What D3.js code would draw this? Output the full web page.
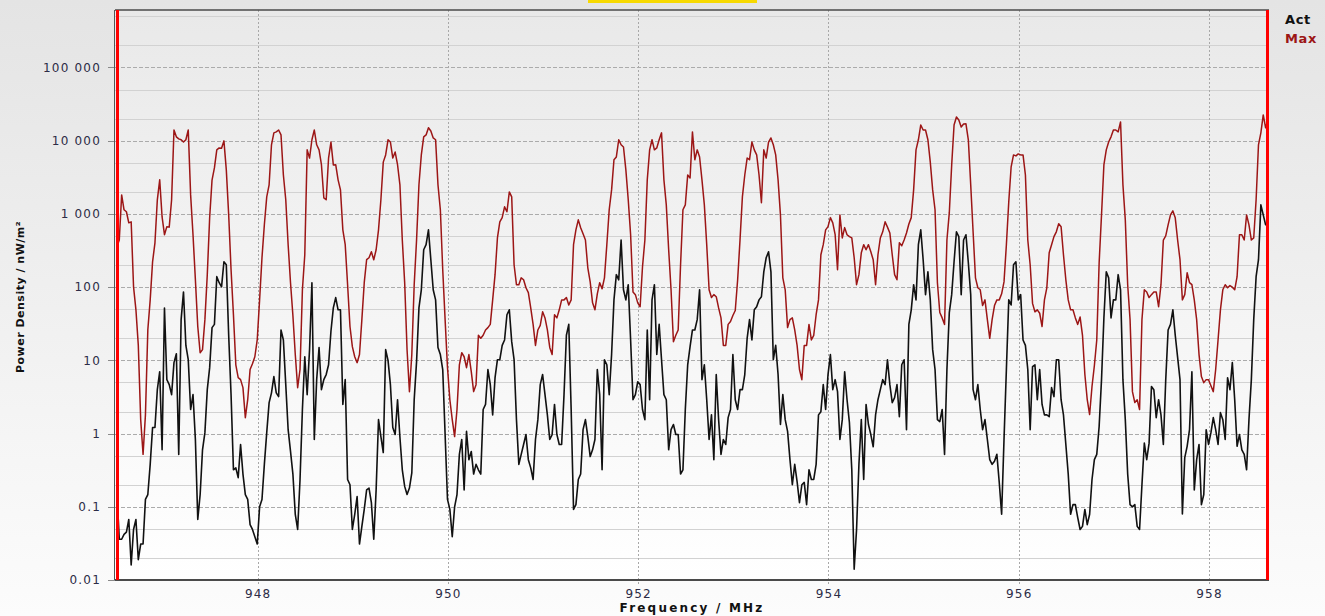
<!DOCTYPE html>
<html>
<head>
<meta charset="utf-8">
<script src="https://cdn.jsdelivr.net/npm/d3@7"></script>
<style>
  html, body { margin: 0; padding: 0; }
  body { width: 1325px; height: 616px; overflow: hidden; background: #f0f0f0; }
  text { font-family: "DejaVu Sans", Verdana, sans-serif; }
</style>
</head>
<body>
<svg id="chart" width="1325" height="616"></svg>
<script>
// sweep grid of the analyzer (MHz)
const freqStart = 946.52;
const freqStep = 0.025;

// Max hold trace, nW/m²
const maxValues = [
  355, 440, 1820, 1140, 1070, 755, 780, 101, 49, 16,
  1.55, 0.52, 1.8, 26, 67, 222, 403, 1560, 2920, 910,
  520, 670, 660, 1560, 14000, 11300, 10600, 10300, 9600, 10300,
  14000, 1820, 520, 126, 29, 12.7, 14, 36, 148, 885,
  2900, 4250, 7500, 7970, 7900, 9950, 4000, 970, 173, 42,
  8.7, 5.8, 5.45, 4.24, 1.65, 2.9, 7.5, 9.0, 11.2, 19,
  67, 252, 710, 1710, 2500, 8800, 12800, 13200, 14000, 12000,
  3400, 1560, 380, 115, 41, 12, 4.24, 7.5, 92, 277,
  7500, 5800, 10300, 14000, 8800, 7500, 4700, 1660, 1560, 5800,
  9600, 4670, 4700, 2920, 2130, 606, 380, 108, 29, 15.4,
  11.2, 9.3, 12, 36, 115, 237, 252, 304, 237, 324,
  606, 1560, 5100, 6400, 10300, 9600, 5800, 7000, 4700, 2500,
  440, 115, 14, 3.74, 12, 108, 440, 2500, 6400, 11300,
  12000, 15000, 13600, 10900, 10300, 2500, 1140, 173, 36, 7.95,
  2.9, 1.55, 0.91, 2.13, 8.7, 12.7, 11.2, 7.95, 12, 7.0,
  3.74, 4.66, 22, 20, 22, 26, 28, 31, 67, 148,
  470, 780, 890, 1250, 1070, 2000, 1710, 202, 108, 108,
  134, 126, 98, 84, 52, 31, 16, 26, 30, 46,
  38, 26, 15, 12, 42, 38, 49, 67, 67, 72,
  57, 67, 380, 606, 830, 646, 535, 440, 184, 118,
  61, 49, 81, 115, 95, 134, 380, 1140, 2130, 5500,
  6000, 10300, 8800, 8200, 4000, 1560, 520, 86, 79, 61,
  54, 190, 440, 2920, 7500, 10300, 7500, 7970, 10300, 12800,
  2920, 1330, 324, 92, 18, 22, 26, 202, 1140, 1330,
  3400, 3100, 13200, 5500, 7500, 6000, 2920, 1330, 380, 92,
  72, 79, 74, 52, 38, 16, 16, 31, 34, 41,
  48, 126, 440, 1710, 3400, 5800, 5500, 9600, 7500, 6400,
  3400, 1420, 7500, 5800, 9600, 10900, 8800, 6400, 2920, 970,
  134, 92, 28, 36, 38, 26, 16, 7.5, 5.45, 16,
  16, 31, 19, 22, 42, 67, 277, 380, 606, 670,
  890, 755, 520, 173, 970, 470, 650, 520, 490, 470,
  252, 108, 148, 295, 380, 324, 380, 304, 237, 108,
  277, 470, 570, 780, 660, 550, 277, 148, 126, 403,
  367, 440, 550, 730, 890, 2130, 7500, 10300, 16400, 14000,
  14000, 10300, 5100, 2130, 1140, 115, 45, 38, 31, 440,
  1040, 4670, 16400, 21100, 19200, 15400, 16900, 17000, 10300, 2500,
  570, 134, 98, 92, 56, 67, 36, 20, 36, 56,
  67, 67, 81, 118, 380, 1460, 4400, 6400, 6200, 6600,
  6400, 6400, 3400, 440, 202, 60, 46, 49, 44, 29,
  67, 98, 295, 380, 490, 570, 735, 670, 277, 126,
  67, 49, 49, 38, 31, 39, 22, 6.4, 2.9, 1.82,
  4.4, 8.5, 19, 215, 970, 4670, 7500, 9600, 11300, 14000,
  14000, 13200, 18000, 2500, 830, 108, 36, 3.74, 2.65, 2.9,
  2.13, 36, 92, 86, 72, 79, 86, 86, 54, 108,
  440, 500, 710, 970, 1100, 885, 440, 237, 67, 79,
  157, 115, 108, 67, 36, 12, 6.0, 4.96, 5.45, 5.45,
  4.5, 3.74, 7.5, 19, 49, 92, 108, 98, 105, 100,
  92, 139, 520, 520, 440, 970, 710, 440, 470, 1560,
  8800, 12800, 22500, 15000, 19200
];

// Actual trace, nW/m²
const actValues = [
  0.156, 0.036, 0.036, 0.042, 0.045, 0.067, 0.016, 0.049, 0.067, 0.019,
  0.031, 0.031, 0.126, 0.147, 0.38, 1.21, 1.21, 3.98, 7.0, 0.6,
  52, 5.45, 4.66, 3.4, 9.3, 12.3, 0.52, 36, 86, 16,
  10.2, 2.13, 3.4, 0.83, 0.067, 0.147, 0.6, 1.03, 3.98, 7.95,
  28, 31, 139, 115, 101, 222, 202, 22, 3.4, 0.32,
  0.34, 0.25, 0.71, 0.28, 0.147, 0.126, 0.057, 0.049, 0.039, 0.031,
  0.1, 0.126, 0.38, 1.03, 2.65, 3.6, 6.0, 3.6, 3.2, 26,
  19, 4.66, 1.13, 0.57, 0.28, 0.079, 0.049, 0.236, 2.13, 11.2,
  3.4, 14, 115, 0.83, 5.45, 15, 3.98, 5.45, 6.4, 8.7,
  25, 52, 72, 49, 49, 2.5, 5.45, 0.236, 0.2, 0.049,
  0.079, 0.138, 0.031, 0.054, 0.092, 0.17, 0.18, 0.114, 0.036, 0.17,
  1.55, 0.91, 0.55, 14, 10, 4.66, 1.21, 0.97, 2.9, 0.89,
  0.32, 0.19, 0.147, 0.18, 0.29, 2.9, 9.6, 52, 92, 324,
  380, 606, 237, 92, 67, 15, 12, 7.5, 0.97, 0.126,
  0.092, 0.039, 0.1, 0.147, 0.52, 0.83, 0.17, 1.07, 0.44, 0.57,
  0.28, 0.38, 0.32, 0.28, 2.13, 2.5, 7.5, 4.66, 1.8, 5.8,
  10.2, 10.2, 16, 19, 42, 49, 18, 10.2, 1.55, 0.38,
  0.52, 0.71, 0.97, 0.44, 0.34, 0.236, 0.83, 1.55, 4.66, 6.4,
  3.4, 1.8, 0.83, 0.97, 2.5, 0.97, 0.71, 0.71, 3.4, 22,
  31, 2.13, 0.092, 0.107, 0.236, 0.28, 1.13, 1.55, 0.91, 0.485,
  0.6, 0.83, 7.5, 3.4, 0.32, 10.2, 8.7, 3.4, 12, 67,
  148, 126, 440, 92, 67, 108, 19, 2.9, 3.4, 5.1,
  4.66, 2.13, 1.55, 26, 2.9, 67, 108, 12, 31, 10.2,
  3.4, 2.9, 0.6, 1.13, 1.33, 0.97, 0.97, 0.28, 0.32, 2.13,
  8.7, 15.4, 26, 26, 36, 92, 5.45, 8.7, 2.9, 0.83,
  1.8, 0.44, 6.4, 1.55, 0.52, 0.83, 0.71, 1.65, 2.13, 12,
  2.9, 2.13, 3.98, 3.98, 6.4, 20, 36, 19, 49, 54,
  67, 74, 162, 252, 304, 162, 10.2, 16, 6.4, 1.33,
  3.4, 1.55, 1.07, 0.44, 0.2, 0.38, 0.22, 0.114, 0.2, 0.215,
  0.107, 0.32, 0.236, 0.236, 0.38, 1.8, 1.99, 4.66, 2.13, 6.4,
  12, 3.98, 5.45, 3.74, 0.83, 1.55, 7.0, 2.9, 1.41, 0.32,
  0.014, 0.049, 0.38, 1.55, 0.236, 2.5, 1.33, 0.97, 0.66, 1.8,
  2.9, 3.98, 5.45, 4.66, 10.2, 4.66, 2.65, 3.1, 4.66, 1.7,
  8.7, 10.2, 1.13, 31, 49, 108, 67, 380, 606, 237,
  79, 162, 67, 14, 7.5, 1.55, 1.46, 2.13, 0.52, 7.5,
  45, 79, 222, 570, 490, 79, 440, 520, 215, 79,
  3.98, 2.9, 4.66, 2.13, 1.13, 1.55, 0.83, 0.44, 0.38, 0.42,
  0.52, 0.215, 0.079, 0.83, 7.5, 67, 57, 202, 222, 67,
  79, 19, 16, 7.5, 1.13, 8.2, 8.7, 2.9, 7.5, 2.5,
  1.8, 1.8, 1.7, 4.24, 3.2, 10.2, 10.2, 2.9, 1.8, 0.71,
  0.28, 0.079, 0.107, 0.107, 0.071, 0.049, 0.054, 0.092, 0.057, 0.079,
  0.236, 0.44, 0.52, 1.25, 5.45, 38, 162, 134, 38, 67,
  67, 148, 92, 5.45, 1.55, 0.28, 0.107, 0.1, 0.107, 0.054,
  0.049, 0.2, 0.74, 0.44, 0.74, 4.4, 3.98, 1.65, 2.9, 1.8,
  0.71, 5.45, 26, 31, 49, 22, 11, 5.45, 0.08, 0.47,
  0.67, 1.13, 7.0, 0.17, 0.44, 0.71, 0.107, 0.147, 1.13, 0.71,
  1.03, 1.65, 1.13, 0.71, 1.93, 1.55, 0.83, 5.8, 3.98, 9.3,
  2.9, 0.67, 0.97, 0.6, 0.52, 0.32, 1.55, 5.45, 36, 139,
  237, 1330, 970, 710, 710
];

const xTicks = [948, 950, 952, 954, 956, 958];
const yMajorTicks = [0.01, 0.1, 1, 10, 100, 1000, 10000, 100000];
const yTickLabels = ["0.01", "0.1", "1", "10", "100", "1 000", "10 000", "100 000"];
const yMinorTicks = [0.02, 0.05, 0.2, 0.5, 2, 5, 20, 50, 200, 500, 2000, 5000,
  20000, 50000, 200000, 500000];
const seriesNames = ["Act", "Max"];
const seriesColors = ["#111111", "#9c1616"];

const svgWidth = 1325;
const svgHeight = 616;
const plot = { left: 115, right: 1269, top: 10, bottom: 580 };

const svg = d3.select("#chart");
const defs = svg.append("defs");

// backgrounds
const outerGrad = defs.append("linearGradient")
  .attr("id", "outerGrad").attr("x1", 0).attr("y1", 0).attr("x2", 0).attr("y2", 1);
outerGrad.append("stop").attr("offset", "0%").attr("stop-color", "#e4e4e4");
outerGrad.append("stop").attr("offset", "100%").attr("stop-color", "#fcfcfc");

const plotGrad = defs.append("linearGradient")
  .attr("id", "plotGrad").attr("x1", 0).attr("y1", 0).attr("x2", 0).attr("y2", 1);
plotGrad.append("stop").attr("offset", "0%").attr("stop-color", "#e9e9e9");
plotGrad.append("stop").attr("offset", "100%").attr("stop-color", "#ffffff");

defs.append("clipPath").attr("id", "plotClip")
  .append("rect")
  .attr("x", plot.left).attr("y", plot.top)
  .attr("width", plot.right - plot.left).attr("height", plot.bottom - plot.top);

svg.append("rect")
  .attr("width", svgWidth).attr("height", svgHeight)
  .attr("fill", "url(#outerGrad)");

svg.append("rect")
  .attr("x", plot.left).attr("y", plot.top)
  .attr("width", plot.right - plot.left).attr("height", plot.bottom - plot.top)
  .attr("fill", "url(#plotGrad)");

// title box (cut off at the top)
svg.append("rect")
  .attr("x", 588).attr("y", 0).attr("width", 169).attr("height", 3)
  .attr("fill", "#f7d900");

// scales
const x_scale = d3.scaleLinear()
  .domain([946.5, 958.62])
  .range([plot.left, plot.right - 1]);
const y_scale = d3.scaleLog()
  .domain([0.01, 610000])
  .range([plot.bottom, plot.top]);

// grid
const grid = svg.append("g");
grid.selectAll(".minor")
  .data(yMinorTicks)
  .join("line")
  .attr("x1", plot.left).attr("x2", plot.right)
  .attr("y1", (d) => Math.round(y_scale(d)) + 0.5)
  .attr("y2", (d) => Math.round(y_scale(d)) + 0.5)
  .attr("stroke", "#d2d2d2").attr("stroke-width", 1);

grid.selectAll(".major")
  .data(yMajorTicks.slice(1))
  .join("line")
  .attr("x1", plot.left).attr("x2", plot.right)
  .attr("y1", (d) => Math.round(y_scale(d)) + 0.5)
  .attr("y2", (d) => Math.round(y_scale(d)) + 0.5)
  .attr("stroke", "#ababab").attr("stroke-width", 1)
  .attr("stroke-dasharray", "4,2");

grid.selectAll(".vgrid")
  .data(xTicks)
  .join("line")
  .attr("x1", (d) => Math.round(x_scale(d)) + 0.5)
  .attr("x2", (d) => Math.round(x_scale(d)) + 0.5)
  .attr("y1", plot.top).attr("y2", plot.bottom + 6)
  .attr("stroke", "#a8a8a8").attr("stroke-width", 1)
  .attr("stroke-dasharray", "2,2");

// y ticks
grid.selectAll(".ytick")
  .data(yMajorTicks)
  .join("line")
  .attr("x1", plot.left - 7).attr("x2", plot.left)
  .attr("y1", (d) => Math.round(y_scale(d)) + 0.5)
  .attr("y2", (d) => Math.round(y_scale(d)) + 0.5)
  .attr("stroke", "#8a8a8a");

// traces
const line = d3.line()
  .x((d, i) => x_scale(freqStart + i * freqStep))
  .y((d) => y_scale(d));

const traces = svg.append("g").attr("clip-path", "url(#plotClip)");
traces.append("path")
  .datum(maxValues)
  .attr("fill", "none")
  .attr("stroke", seriesColors[1])
  .attr("stroke-width", 1.5)
  .attr("stroke-linejoin", "round")
  .attr("d", line);
traces.append("path")
  .datum(actValues)
  .attr("fill", "none")
  .attr("stroke", seriesColors[0])
  .attr("stroke-width", 1.6)
  .attr("stroke-linejoin", "round")
  .attr("d", line);

// frame
svg.append("line")
  .attr("x1", plot.left).attr("x2", plot.right)
  .attr("y1", plot.top).attr("y2", plot.top)
  .attr("stroke", "#4a4a4a").attr("stroke-width", 1.6);
svg.append("line")
  .attr("x1", plot.left).attr("x2", plot.right)
  .attr("y1", plot.bottom).attr("y2", plot.bottom)
  .attr("stroke", "#4a4a4a").attr("stroke-width", 2);
svg.append("line")
  .attr("x1", plot.left - 0.5).attr("x2", plot.left - 0.5)
  .attr("y1", plot.top).attr("y2", plot.bottom)
  .attr("stroke", "#555").attr("stroke-width", 1);

// red range markers on both ends
svg.append("line")
  .attr("x1", plot.left + 2.5).attr("x2", plot.left + 2.5)
  .attr("y1", plot.top).attr("y2", plot.bottom)
  .attr("stroke", "#ff0000").attr("stroke-width", 3);
svg.append("line")
  .attr("x1", plot.right - 1.5).attr("x2", plot.right - 1.5)
  .attr("y1", plot.top).attr("y2", plot.bottom)
  .attr("stroke", "#ff0000").attr("stroke-width", 3);

// tick labels
svg.append("g").selectAll("text")
  .data(yMajorTicks)
  .join("text")
  .attr("x", 101)
  .attr("y", (d) => y_scale(d))
  .attr("dy", "0.36em")
  .attr("text-anchor", "end")
  .attr("font-size", 12)
  .attr("letter-spacing", 1.2)
  .attr("fill", "#2c2c46")
  .text((d, i) => yTickLabels[i]);

svg.append("g").selectAll("text")
  .data(xTicks)
  .join("text")
  .attr("x", (d) => x_scale(d) + 0.5)
  .attr("y", 598)
  .attr("text-anchor", "middle")
  .attr("font-size", 12)
  .attr("letter-spacing", 1.2)
  .attr("fill", "#2c2c46")
  .text((d) => d);

// axis titles
svg.append("text")
  .attr("transform", "translate(24,297) rotate(-90)")
  .attr("text-anchor", "middle")
  .attr("font-size", 11)
  .attr("font-weight", "bold")
  .attr("letter-spacing", 0.5)
  .attr("fill", "#111")
  .text("Power Density / nW/m²");

svg.append("text")
  .attr("x", 692)
  .attr("y", 612)
  .attr("text-anchor", "middle")
  .attr("font-size", 12)
  .attr("font-weight", "bold")
  .attr("letter-spacing", 2.2)
  .attr("fill", "#111")
  .text("Frequency / MHz");

// legend
svg.append("g").selectAll("text")
  .data(seriesNames)
  .join("text")
  .attr("x", 1285)
  .attr("y", (d, i) => 24 + i * 19)
  .attr("font-size", 13)
  .attr("font-weight", "bold")
  .attr("letter-spacing", 0.6)
  .attr("fill", (d, i) => seriesColors[i])
  .text((d) => d);
</script>
</body>
</html>
